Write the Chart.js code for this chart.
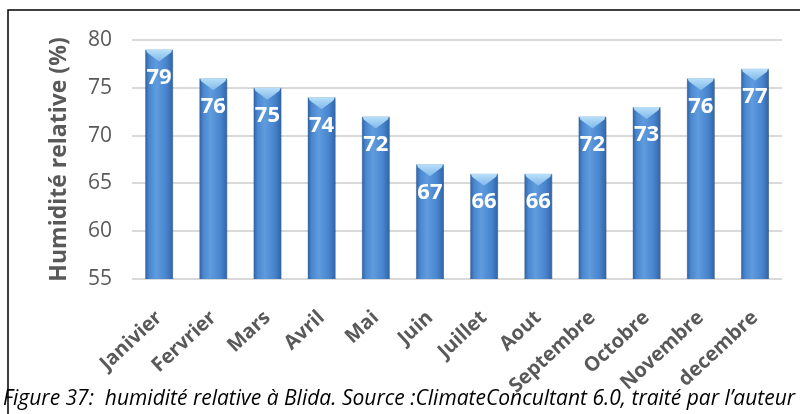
<!DOCTYPE html>
<html>
<head>
<meta charset="utf-8">
<script src="https://cdn.jsdelivr.net/npm/chart.js@4.4.0/dist/chart.umd.min.js"></script>
<style>
  body { margin: 0; background: #fff; }
  #wrap { width: 800px; height: 414px; position: relative; }
</style>
</head>
<body>
<div id="wrap"><canvas id="humChart"></canvas></div>
<script>
const monthLabels = ['Janivier', 'Fervrier', 'Mars', 'Avril', 'Mai', 'Juin', 'Juillet', 'Aout', 'Septembre', 'Octobre', 'Novembre', 'decembre'];
const humidityData = [79, 76, 75, 74, 72, 67, 66, 66, 72, 73, 76, 77];
const yTicks = [55, 60, 65, 70, 75, 80];
const captionText = 'Figure 37:  humidité relative à Blida. Source :ClimateConcultant 6.0, traité par l\u2019auteur';

const barPct = 0.52;

// horizontal cylinder gradient for each bar
function barFill(c) {
  const chart = c.chart;
  const area = chart.chartArea;
  const xs = chart.scales.x;
  if (!area || !xs) return '#4a86cf';
  const cx = xs.getPixelForValue(c.dataIndex);
  const w = (area.width / monthLabels.length) * barPct;
  const g = chart.ctx.createLinearGradient(cx - w / 2, 0, cx + w / 2, 0);
  g.addColorStop(0, '#2d5f9e');
  g.addColorStop(0.15, '#4a87cf');
  g.addColorStop(0.4, '#5f9bdd');
  g.addColorStop(0.75, '#4985ce');
  g.addColorStop(1, '#2f64a6');
  return g;
}

const barDeco = {
  id: 'barDeco',
  beforeDatasetsDraw(chart) {
    const ctx = chart.ctx;
    ctx.save();
    ctx.shadowColor = 'rgba(0,0,0,0.35)';
    ctx.shadowBlur = 4;
    ctx.shadowOffsetX = 2;
    ctx.shadowOffsetY = 1;
  },
  afterDatasetsDraw(chart) {
    const ctx = chart.ctx;
    ctx.restore();
    const meta = chart.getDatasetMeta(0);
    meta.data.forEach((el, i) => {
      const w = el.width, x = el.x, top = el.y;
      // light cap at top of bar
      const g = ctx.createLinearGradient(0, top, 0, top + 12);
      g.addColorStop(0, '#b9e0fa');
      g.addColorStop(1, '#7fb8ea');
      ctx.beginPath();
      ctx.moveTo(x - w / 2 + 1, top);
      ctx.lineTo(x + w / 2 - 1, top);
      ctx.lineTo(x + w / 2 - 2, top + 3);
      ctx.lineTo(x, top + 12);
      ctx.lineTo(x - w / 2 + 2, top + 3);
      ctx.closePath();
      ctx.fillStyle = g;
      ctx.fill();
      // value label
      ctx.fillStyle = '#ffffff';
      ctx.font = 'bold 22px "Open Sans"';
      ctx.textAlign = 'center';
      ctx.textBaseline = 'middle';
      ctx.fillText(String(humidityData[i]), x, top + 28);
    });
  },
  afterDraw(chart) {
    const ctx = chart.ctx;
    ctx.save();
    // frame
    ctx.strokeStyle = '#000';
    ctx.lineWidth = 1.5;
    ctx.beginPath();
    ctx.moveTo(8, 414);
    ctx.lineTo(8, 10);
    ctx.lineTo(800, 10);
    ctx.stroke();
    // caption
    ctx.fillStyle = '#000';
    ctx.font = 'italic 21px "Open Sans"';
    ctx.textAlign = 'left';
    ctx.textBaseline = 'middle';
    ctx.fillText(captionText, 3, 399);
    ctx.restore();
  }
};

const config = {
  type: 'bar',
  data: {
    labels: monthLabels,
    datasets: [{
      data: humidityData,
      backgroundColor: barFill,
      borderColor: 'rgba(40,80,140,0.6)',
      borderWidth: 0.5,
      barPercentage: barPct,
      categoryPercentage: 1
    }]
  },
  options: {
    responsive: true,
    maintainAspectRatio: false,
    animation: false,
    layout: { padding: { left: 40, top: 40, right: 18, bottom: 0 } },
    scales: {
      x: {
        grid: { display: false },
        border: { display: false },
        ticks: {
          color: '#595959',
          font: { family: 'Open Sans', size: 20, weight: 'bold' },
          minRotation: 43,
          maxRotation: 43,
          padding: 19
        },
        afterFit(scale) { scale.height = 135; }
      },
      y: {
        min: 55,
        max: 80,
        afterBuildTicks(scale) { scale.ticks = yTicks.map(v => ({ value: v })); },
        grid: { color: '#d9d9d9', lineWidth: 2, drawTicks: false },
        border: { display: false },
        ticks: {
          color: '#595959',
          font: { family: 'Open Sans', size: 21 },
          padding: 20
        },
        title: {
          display: true,
          text: 'Humidité relative (%)',
          color: '#595959',
          font: { family: 'Open Sans', size: 23, weight: 'bold' },
          padding: { top: 6, bottom: 0 }
        },
        afterFit(scale) { scale.width = 92; }
      }
    },
    plugins: {
      legend: { display: false },
      tooltip: { enabled: false }
    }
  },
  plugins: [barDeco]
};

new Chart(document.getElementById('humChart'), config);
</script>
</body>
</html>
